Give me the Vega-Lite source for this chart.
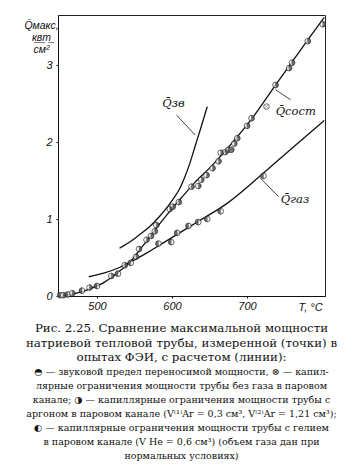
{
  "$schema": "https://vega.github.io/schema/vega-lite/v6.json",
  "width": 267,
  "height": 281,
  "autosize": {"type": "none"},
  "padding": {"left": 58, "top": 15, "right": 35, "bottom": 169},
  "background": "white",
  "config": {
    "view": {"stroke": "#222", "strokeWidth": 1},
    "axis": {"grid": false, "domainColor": "#111", "tickColor": "#111", "labelColor": "#111", "titleColor": "#111"}
  },
  "title": {
    "text": ["Рис. 2.25. Сравнение максимальной мощности", "натриевой тепловой трубы, измеренной (точки) в", "опытах ФЭИ, с расчетом (линии):"],
    "subtitle": [
      "◓ — звуковой предел переносимой мощности, ⊗ — капил-",
      "лярные ограничения мощности трубы без газа в паровом",
      "канале; ◑ — капиллярные ограничения мощности трубы с",
      "аргоном в паровом канале (V⁽¹⁾Ar = 0,3 см³, V⁽²⁾Ar = 1,21 см³);",
      "◐ — капиллярные ограничения мощности трубы с гелием",
      "в паровом канале (V He = 0,6 см³) (объем газа дан при",
      "нормальных условиях)"
    ],
    "orient": "bottom",
    "anchor": "middle",
    "frame": "group",
    "dx": -10,
    "offset": 11,
    "font": "DejaVu Serif",
    "fontSize": 11.8,
    "fontWeight": "normal",
    "lineHeight": 14.5,
    "color": "#111",
    "subtitleFont": "DejaVu Serif",
    "subtitleFontSize": 9.5,
    "subtitleLineHeight": 14,
    "subtitlePadding": 3,
    "subtitleColor": "#111"
  },
  "layer": [
    {
      "data": {"values": [
        {"curve": "sost", "T": 450, "Q": 0.0},
        {"curve": "sost", "T": 470, "Q": 0.03},
        {"curve": "sost", "T": 490, "Q": 0.09},
        {"curve": "sost", "T": 510, "Q": 0.18},
        {"curve": "sost", "T": 530, "Q": 0.32},
        {"curve": "sost", "T": 545, "Q": 0.45},
        {"curve": "sost", "T": 557, "Q": 0.6},
        {"curve": "sost", "T": 570, "Q": 0.76},
        {"curve": "sost", "T": 583, "Q": 0.93},
        {"curve": "sost", "T": 597, "Q": 1.1},
        {"curve": "sost", "T": 612, "Q": 1.27},
        {"curve": "sost", "T": 630, "Q": 1.47},
        {"curve": "sost", "T": 652, "Q": 1.68},
        {"curve": "sost", "T": 675, "Q": 1.93},
        {"curve": "sost", "T": 707, "Q": 2.31},
        {"curve": "sost", "T": 738, "Q": 2.74},
        {"curve": "sost", "T": 760, "Q": 3.04},
        {"curve": "sost", "T": 782, "Q": 3.34},
        {"curve": "sost", "T": 803, "Q": 3.62},
        {"curve": "gaz", "T": 489, "Q": 0.25},
        {"curve": "gaz", "T": 510, "Q": 0.3},
        {"curve": "gaz", "T": 530, "Q": 0.37},
        {"curve": "gaz", "T": 550, "Q": 0.47},
        {"curve": "gaz", "T": 570, "Q": 0.58},
        {"curve": "gaz", "T": 590, "Q": 0.7},
        {"curve": "gaz", "T": 610, "Q": 0.82},
        {"curve": "gaz", "T": 637, "Q": 0.98},
        {"curve": "gaz", "T": 673, "Q": 1.2},
        {"curve": "gaz", "T": 720, "Q": 1.58},
        {"curve": "gaz", "T": 760, "Q": 1.92},
        {"curve": "gaz", "T": 803, "Q": 2.28},
        {"curve": "zv", "T": 530, "Q": 0.62},
        {"curve": "zv", "T": 545, "Q": 0.71},
        {"curve": "zv", "T": 557, "Q": 0.8},
        {"curve": "zv", "T": 570, "Q": 0.9},
        {"curve": "zv", "T": 583, "Q": 1.03},
        {"curve": "zv", "T": 595, "Q": 1.17},
        {"curve": "zv", "T": 603, "Q": 1.28},
        {"curve": "zv", "T": 610, "Q": 1.39},
        {"curve": "zv", "T": 616, "Q": 1.52},
        {"curve": "zv", "T": 623, "Q": 1.7},
        {"curve": "zv", "T": 630, "Q": 1.92},
        {"curve": "zv", "T": 638, "Q": 2.17},
        {"curve": "zv", "T": 647, "Q": 2.46}
      ]},
      "mark": {"type": "line", "stroke": "#111", "strokeWidth": 1.3, "interpolate": "monotone"},
      "encoding": {
        "x": {"field": "T", "type": "quantitative", "scale": {"domain": [448, 804], "nice": false, "zero": false},
          "axis": {"values": [500, 600, 700], "format": "d", "labelFont": "Liberation Sans", "labelFontStyle": "italic", "labelFontSize": 11, "tickSize": 2, "labelPadding": 2,
            "title": "T, °C", "titleFont": "Liberation Sans", "titleFontStyle": "italic", "titleFontWeight": "normal", "titleFontSize": 11,
            "titleX": 252, "titleY": 14, "titleAlign": "center", "titleBaseline": "alphabetic", "titleAnchor": null}},
        "y": {"field": "Q", "type": "quantitative", "scale": {"domain": [0, 3.65], "nice": false},
          "axis": {"values": [0, 1, 2, 3], "format": "d", "labelFont": "Liberation Sans", "labelFontStyle": "italic", "labelFontSize": 11, "tickSize": 2, "labelPadding": 4,
            "title": ["Q̄макс,", "к̲в̲т̲", "см²"], "titleFont": "Liberation Sans", "titleFontStyle": "italic", "titleFontWeight": "normal", "titleFontSize": 10.5,
            "titleAngle": 0, "titleX": -17, "titleY": 13, "titleAlign": "center", "titleBaseline": "alphabetic", "titleLineHeight": 12, "titleAnchor": null}},
        "detail": {"field": "curve"}
      }
    },
    {
      "data": {"values": [
        {"T": 451, "Q": 0.01, "type": "He"},
        {"T": 455, "Q": 0.01, "type": "Ar"},
        {"T": 461, "Q": 0.02, "type": "He"},
        {"T": 467, "Q": 0.035, "type": "Ar"},
        {"T": 480, "Q": 0.07, "type": "He"},
        {"T": 490, "Q": 0.11, "type": "Ar"},
        {"T": 500, "Q": 0.13, "type": "He"},
        {"T": 519, "Q": 0.26, "type": "Ar"},
        {"T": 528, "Q": 0.29, "type": "He"},
        {"T": 537, "Q": 0.4, "type": "Ar"},
        {"T": 545, "Q": 0.43, "type": "He"},
        {"T": 552, "Q": 0.51, "type": "Ar"},
        {"T": 556, "Q": 0.61, "type": "Ar"},
        {"T": 566, "Q": 0.73, "type": "Ar"},
        {"T": 572, "Q": 0.78, "type": "Ar"},
        {"T": 577, "Q": 0.84, "type": "Ar"},
        {"T": 579, "Q": 0.92, "type": "Ar"},
        {"T": 597, "Q": 1.13, "type": "Ar"},
        {"T": 601, "Q": 1.16, "type": "Ar"},
        {"T": 609, "Q": 1.22, "type": "Ar"},
        {"T": 626, "Q": 1.42, "type": "Ar"},
        {"T": 635, "Q": 1.43, "type": "Ar"},
        {"T": 639, "Q": 1.51, "type": "Ar"},
        {"T": 646, "Q": 1.57, "type": "Ar"},
        {"T": 654, "Q": 1.66, "type": "Ar"},
        {"T": 662, "Q": 1.75, "type": "Ar"},
        {"T": 665, "Q": 1.86, "type": "Ar"},
        {"T": 671, "Q": 1.87, "type": "Ar"},
        {"T": 675, "Q": 1.9, "type": "Ar"},
        {"T": 679, "Q": 1.9, "type": "Ar"},
        {"T": 683, "Q": 1.98, "type": "Ar"},
        {"T": 687, "Q": 2.05, "type": "Ar"},
        {"T": 700, "Q": 2.21, "type": "Ar"},
        {"T": 706, "Q": 2.31, "type": "Ar"},
        {"T": 726, "Q": 2.46, "type": "noGas"},
        {"T": 738, "Q": 2.74, "type": "Ar"},
        {"T": 756, "Q": 2.96, "type": "Ar"},
        {"T": 760, "Q": 3.03, "type": "Ar"},
        {"T": 781, "Q": 3.31, "type": "Ar"},
        {"T": 801, "Q": 3.53, "type": "Ar"},
        {"T": 582, "Q": 0.68, "type": "He"},
        {"T": 599, "Q": 0.7, "type": "He"},
        {"T": 607, "Q": 0.82, "type": "He"},
        {"T": 622, "Q": 0.91, "type": "He"},
        {"T": 635, "Q": 0.96, "type": "He"},
        {"T": 647, "Q": 1.0, "type": "He"},
        {"T": 665, "Q": 1.1, "type": "He"},
        {"T": 722, "Q": 1.56, "type": "He"}
      ]},
      "layer": [
        {
          "mark": {"type": "point", "shape": "circle", "filled": true, "fill": "white", "stroke": "#111", "strokeWidth": 0.9, "size": 32},
          "encoding": {
            "x": {"field": "T", "type": "quantitative"},
            "y": {"field": "Q", "type": "quantitative"}
          }
        },
        {
          "mark": {"type": "point", "filled": true, "fill": "#333", "stroke": "#333", "strokeWidth": 0.5, "size": 32},
          "encoding": {
            "x": {"field": "T", "type": "quantitative"},
            "y": {"field": "Q", "type": "quantitative"},
            "shape": {"field": "type", "type": "nominal", "legend": null,
              "scale": {"domain": ["Ar", "He", "noGas"], "range": ["M0,-1A1,1 0 0 1 0,1Z", "M0,-1A1,1 0 0 0 0,1Z", "M-0.7,-0.7L0.7,0.7M-0.7,0.7L0.7,-0.7"]}}
          }
        }
      ]
    },
    {
      "data": {"values": [
        {"T": 606, "Q": 2.35, "T2": 631, "Q2": 2.09},
        {"T": 738, "Q": 2.68, "T2": 758, "Q2": 2.55},
        {"T": 718, "Q": 1.53, "T2": 742, "Q2": 1.29}
      ]},
      "mark": {"type": "rule", "stroke": "#111", "strokeWidth": 0.8},
      "encoding": {
        "x": {"field": "T", "type": "quantitative"},
        "y": {"field": "Q", "type": "quantitative"},
        "x2": {"field": "T2"},
        "y2": {"field": "Q2"}
      }
    },
    {
      "data": {"values": [
        {"T": 602, "Q": 2.49, "label": "Q̄зв"},
        {"T": 765, "Q": 2.39, "label": "Q̄сост"},
        {"T": 764, "Q": 1.25, "label": "Q̄газ"}
      ]},
      "mark": {"type": "text", "font": "DejaVu Serif", "fontStyle": "italic", "fontSize": 11.5, "fill": "#111", "align": "center", "baseline": "middle"},
      "encoding": {
        "x": {"field": "T", "type": "quantitative"},
        "y": {"field": "Q", "type": "quantitative"},
        "text": {"field": "label"}
      }
    }
  ]
}
